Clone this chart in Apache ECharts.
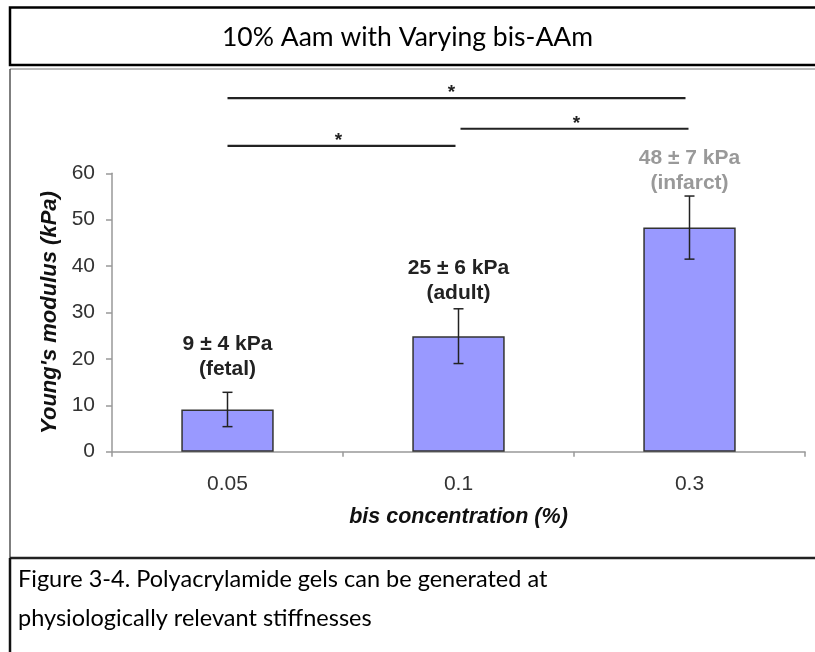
<!DOCTYPE html>
<html><head><meta charset="utf-8">
<script src="https://cdn.jsdelivr.net/npm/echarts@6/dist/echarts.min.js"></script>
<style>html,body{margin:0;padding:0;background:#fff}#c{width:815px;height:652px}</style>
</head><body><div id="c"></div>
<script>
// ---- data ----
const categories = ['0.05', '0.1', '0.3'];
const means = [9.1, 24.9, 48.3];
const errors = [3.7, 5.9, 6.8];
const valueLabels = ['9 ± 4 kPa', '25 ± 6 kPa', '48 ± 7 kPa'];
const tissueLabels = ['(fetal)', '(adult)', '(infarct)'];
const sigFrom = [0, 1, 0];
const sigTo = [2, 2, 1];
const sigLevel = [76.2, 69.6, 65.9];
const sigText = ['*', '*', '*'];
const yMin = 0, yMax = 60, yStep = 10;
const titleText = '10% Aam with Varying bis-AAm';
const captionText = 'Figure 3-4. Polyacrylamide gels can be generated at\nphysiologically relevant stiffnesses';
const xName = 'bis concentration (%)';
const yName = "Young's modulus (kPa)";

// ---- style ----
const labelColors = ['#222', '#222', '#999'];
const labelDistances = [28, 30, 32];
const sigEndOffsets = [[0, -4], [2, -1], [0, -3]];
const sigStarOffsets = [-5, 2, -3];
const AR = 'Liberation Sans';
const CAL = 'Lato';

const chart = echarts.init(document.getElementById('c'), null, {renderer: 'canvas'});
const option = {
  animation: false,
  backgroundColor: '#fff',
  title: [
    {text: titleText, left: 'center', top: 19,
     textStyle: {fontFamily: CAL, fontSize: 26.5, fontWeight: 'normal', color: '#000'}},
    {text: captionText, left: 13, top: 555,
     textStyle: {fontFamily: CAL, fontSize: 23.5, fontWeight: 'normal', color: '#000', lineHeight: 39}}
  ],
  grid: {left: 112, right: 10, top: 173.3, bottom: 200.3, outerBoundsMode: 'none'},
  xAxis: {
    type: 'category', data: categories, boundaryGap: true,
    axisLine: {lineStyle: {color: '#999', width: 1.5}},
    axisTick: {show: true, length: 5, alignWithLabel: false, lineStyle: {color: '#999', width: 1.5}},
    axisLabel: {fontFamily: AR, fontSize: 21, color: '#333', margin: 22},
    name: xName, nameLocation: 'middle', nameGap: 54,
    nameTextStyle: {fontFamily: AR, fontSize: 21.5, fontWeight: 'bold', fontStyle: 'italic', color: '#111'}
  },
  yAxis: {
    type: 'value', min: yMin, max: yMax, interval: yStep,
    axisLine: {show: true, lineStyle: {color: '#999', width: 1.5}},
    axisTick: {show: true, length: 6, lineStyle: {color: '#999', width: 1.5}},
    splitLine: {show: false},
    axisLabel: {fontFamily: AR, fontSize: 21, color: '#333', margin: 17},
    name: yName, nameLocation: 'middle', nameGap: 51,
    nameTextStyle: {fontFamily: AR, fontSize: 22, fontWeight: 'bold', fontStyle: 'italic', color: '#111'}
  },
  series: [
    {
      type: 'bar', barWidth: '40%',
      data: means.map((v, i) => ({value: v, label: {distance: labelDistances[i], color: labelColors[i]}})),
      itemStyle: {color: '#9999ff', borderColor: '#333', borderWidth: 1.5},
      label: {
        show: true, position: 'top',
        formatter: p => valueLabels[p.dataIndex] + '\n' + tissueLabels[p.dataIndex],
        fontFamily: AR, fontSize: 21, fontWeight: 'bold', lineHeight: 25, align: 'center'
      }
    },
    {
      type: 'custom', clip: false, z: 5,
      data: means.map((m, i) => [i, m, errors[i]]),
      encode: {x: 0, y: 1},
      renderItem: (params, api) => {
        const i = api.value(0), m = api.value(1), e = api.value(2);
        const t = api.coord([i, m + e]), b = api.coord([i, m - e]);
        const cap = 5, st = {stroke: '#222', lineWidth: 1.5};
        return {type: 'group', children: [
          {type: 'line', shape: {x1: t[0], y1: t[1], x2: b[0], y2: b[1]}, style: st},
          {type: 'line', shape: {x1: t[0] - cap, y1: t[1], x2: t[0] + cap, y2: t[1]}, style: st},
          {type: 'line', shape: {x1: b[0] - cap, y1: b[1], x2: b[0] + cap, y2: b[1]}, style: st}
        ]};
      }
    },
    {
      type: 'custom', clip: false, z: 5,
      data: sigFrom.map((f, k) => [f, sigLevel[k], sigTo[k], k]),
      encode: {x: 0, y: 1},
      renderItem: (params, api) => {
        const k = api.value(3);
        const p0 = api.coord([api.value(0), api.value(1)]);
        const p1 = api.coord([api.value(2), api.value(1)]);
        const x0 = p0[0] + sigEndOffsets[k][0], x1 = p1[0] + sigEndOffsets[k][1];
        return {type: 'group', children: [
          {type: 'line', shape: {x1: x0, y1: p0[1], x2: x1, y2: p0[1]}, style: {stroke: '#222', lineWidth: 2.2}},
          {type: 'text', x: (x0 + x1) / 2 + sigStarOffsets[k], y: p0[1] - 5,
           style: {text: sigText[k], fontFamily: AR, fontSize: 19, fontWeight: 'bold', fill: '#222',
                   align: 'center', verticalAlign: 'middle'}}
        ]};
      }
    }
  ],
  graphic: [
    {type: 'rect', silent: true, shape: {x: 10, y: 7.5, width: 830, height: 57.5}, style: {fill: null, stroke: '#000', lineWidth: 2.5}},
    {type: 'line', silent: true, shape: {x1: 10, y1: 69, x2: 830, y2: 69}, style: {stroke: '#777', lineWidth: 1}},
    {type: 'line', silent: true, shape: {x1: 10, y1: 69, x2: 10, y2: 558}, style: {stroke: '#555', lineWidth: 1.5}},
    {type: 'line', silent: true, shape: {x1: 10, y1: 558, x2: 830, y2: 558}, style: {stroke: '#222', lineWidth: 2.5}},
    {type: 'line', silent: true, shape: {x1: 10, y1: 558, x2: 10, y2: 660}, style: {stroke: '#111', lineWidth: 2.5}}
  ]
};
chart.setOption(option);
</script></body></html>
